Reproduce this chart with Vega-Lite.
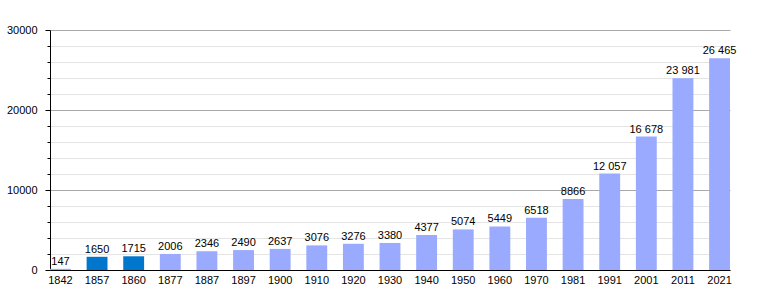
{
  "$schema": "https://vega.github.io/schema/vega-lite/v6.json",
  "autosize": "none",
  "padding": {"left": 50, "top": 30, "right": 30, "bottom": 30},
  "width": 680,
  "height": 240,
  "background": "white",
  "config": {
    "view": {"stroke": null},
    "font": "Liberation Sans",
    "axis": {"labelFont": "Liberation Sans", "labelFontSize": 11, "labelColor": "#000"}
  },
  "data": {
    "values": [
      {"year": "1842", "population": 147, "label": "147", "group": "B"},
      {"year": "1857", "population": 1650, "label": "1650", "group": "A"},
      {"year": "1860", "population": 1715, "label": "1715", "group": "A"},
      {"year": "1877", "population": 2006, "label": "2006", "group": "B"},
      {"year": "1887", "population": 2346, "label": "2346", "group": "B"},
      {"year": "1897", "population": 2490, "label": "2490", "group": "B"},
      {"year": "1900", "population": 2637, "label": "2637", "group": "B"},
      {"year": "1910", "population": 3076, "label": "3076", "group": "B"},
      {"year": "1920", "population": 3276, "label": "3276", "group": "B"},
      {"year": "1930", "population": 3380, "label": "3380", "group": "B"},
      {"year": "1940", "population": 4377, "label": "4377", "group": "B"},
      {"year": "1950", "population": 5074, "label": "5074", "group": "B"},
      {"year": "1960", "population": 5449, "label": "5449", "group": "B"},
      {"year": "1970", "population": 6518, "label": "6518", "group": "B"},
      {"year": "1981", "population": 8866, "label": "8866", "group": "B"},
      {"year": "1991", "population": 12057, "label": "12 057", "group": "B"},
      {"year": "2001", "population": 16678, "label": "16 678", "group": "B"},
      {"year": "2011", "population": 23981, "label": "23 981", "group": "B"},
      {"year": "2021", "population": 26465, "label": "26 465", "group": "B"}
    ]
  },
  "encoding": {
    "x": {
      "field": "year", "type": "ordinal", "sort": null,
      "scale": {"paddingInner": 0.43, "paddingOuter": 0, "align": 0},
      "axis": {"title": null, "labelAngle": 0, "ticks": false, "domainColor": "#000", "labelPadding": 4, "grid": false}
    },
    "y": {
      "field": "population", "type": "quantitative",
      "scale": {"domain": [0, 30000], "nice": false},
      "axis": {
        "title": null,
        "values": [0, 2000, 4000, 6000, 8000, 10000, 12000, 14000, 16000, 18000, 20000, 22000, 24000, 26000, 28000, 30000],
        "labelExpr": "datum.value % 10000 === 0 ? datum.value : ''",
        "grid": true,
        "gridColor": {"condition": {"test": "datum.value % 10000 === 0", "value": "#a8a8a8"}, "value": "#e4e4e4"},
        "tickSize": {"condition": {"test": "datum.value % 10000 === 0", "value": 5}, "value": 3},
        "tickColor": "#000",
        "domainColor": "#000",
        "labelPadding": 8
      }
    }
  },
  "layer": [
    {
      "mark": {"type": "bar"},
      "encoding": {
        "color": {"field": "group", "type": "nominal", "scale": {"domain": ["A", "B"], "range": ["#0077cc", "#99aaff"]}, "legend": null}
      }
    },
    {
      "mark": {"type": "text", "baseline": "alphabetic", "dy": -4, "fontSize": 11, "color": "#000", "font": "Liberation Sans"},
      "encoding": {"text": {"field": "label"}}
    }
  ]
}
